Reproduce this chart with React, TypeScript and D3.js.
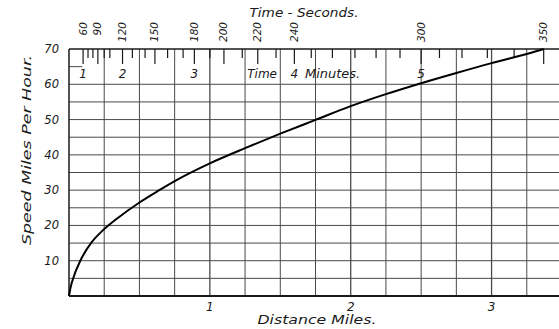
import React from "react";
import * as d3 from "d3";

// Speed curve: distance (miles) vs speed (mph)
const distance = [0, 0.02, 0.08, 0.16, 0.24, 0.33, 0.5, 0.65, 0.76, 1.0, 1.25, 1.5, 1.75, 2.0, 2.25, 2.5, 2.75, 3.0, 3.25, 3.37];
const speed = [0, 3.8, 10.0, 15.2, 18.6, 21.6, 26.5, 30.2, 32.8, 37.6, 41.9, 46.0, 49.9, 53.8, 57.2, 60.3, 63.2, 66.0, 68.6, 70.0];

// Top time scale: seconds and the distance where each tick falls
const timeSeconds = [60, 70, 80, 90, 100, 110, 120, 130, 140, 150, 160, 170, 180, 190, 200, 210, 220, 230, 240, 250, 260, 270, 280, 290, 300, 310, 320, 330, 340, 350];
const timeDistance = [0.10, 0.135, 0.17, 0.205, 0.25, 0.29, 0.38, 0.45, 0.54, 0.61, 0.70, 0.81, 0.89, 1.00, 1.10, 1.23, 1.34, 1.47, 1.60, 1.72, 1.87, 2.03, 2.18, 2.35, 2.50, 2.63, 2.79, 2.97, 3.16, 3.37];
const labeledSeconds = [60, 90, 120, 150, 180, 200, 220, 240, 300, 350];
const minuteLabels = ["1", "2", "3", "5"];
const minuteSeconds = [60, 120, 180, 300];

const speedTicks = [10, 20, 30, 40, 50, 60, 70];
const speedGrid = [5, 10, 15, 20, 25, 30, 35, 40, 45, 50, 55, 60];
const distanceTicks = [1, 2, 3];
const distanceGrid = d3.range(1, 15).map((i) => i * 0.25);

const W = 559;
const H = 329;

export default function App() {
  const x = d3.scaleLinear().domain([0, 3.5]).range([69, 562]);
  const y = d3.scaleLinear().domain([0, 70]).range([296, 49]);
  const pts: [number, number][] = distance.map((d, i) => [d, speed[i]]);
  const line = d3
    .line<[number, number]>()
    .x((p) => x(p[0]))
    .y((p) => y(p[1]))
    .curve(d3.curveCatmullRom.alpha(0.5));
  const distOfSec = (s: number) => timeDistance[timeSeconds.indexOf(s)];
  const font = "'DejaVu Sans', sans-serif";
  const ink = "#1a1a1a";
  const grid = "#4a4a4a";

  return (
    <svg
      width={W}
      height={H}
      viewBox={`0 0 ${W} ${H}`}
      style={{ position: "absolute", left: 0, top: 0, background: "#fff" }}
      fontFamily={font}
      fontStyle="italic"
    >
      <rect x={0} y={0} width={W} height={H} fill="#fff" />
      {/* vertical grid */}
      {distanceGrid.map((d) => (
        <line
          key={"v" + d}
          x1={x(d)}
          x2={x(d)}
          y1={y(70)}
          y2={y(0)}
          stroke={grid}
          strokeWidth={Number.isInteger(d) ? 1.3 : 1}
        />
      ))}
      {/* horizontal grid */}
      {speedGrid.map((v) => (
        <line key={"h" + v} x1={x(0)} x2={x(3.5)} y1={y(v)} y2={y(v)} stroke={grid} strokeWidth={1} />
      ))}
      {/* stub of 65 line */}
      <line x1={x(0)} x2={x(0.095)} y1={y(65)} y2={y(65)} stroke={grid} strokeWidth={1} />
      {/* frame */}
      <line x1={x(0)} x2={x(3.5)} y1={y(70)} y2={y(70)} stroke={ink} strokeWidth={1.5} />
      <line x1={x(0)} x2={x(3.5)} y1={y(0)} y2={y(0)} stroke={ink} strokeWidth={2} />
      <line x1={x(0)} x2={x(0)} y1={y(70)} y2={y(0)} stroke={ink} strokeWidth={1.5} />

      {/* time ticks */}
      {timeSeconds.map((s, i) => {
        const major = labeledSeconds.includes(s);
        return (
          <line
            key={"t" + s}
            x1={x(timeDistance[i])}
            x2={x(timeDistance[i])}
            y1={y(70)}
            y2={y(70) + (major ? 15 : 9)}
            stroke={ink}
            strokeWidth={1.2}
          />
        );
      })}
      {labeledSeconds.map((s) => {
        const px = x(distOfSec(s));
        return (
          <text
            key={"ts" + s}
            transform={`translate(${px + 3.5},22) rotate(-90)`}
            textAnchor="end"
            fontSize={10.5}
            fill={ink}
          >
            {s}
          </text>
        );
      })}
      <text x={304} y={17} textAnchor="middle" fontSize={13} fill={ink} textLength={109} lengthAdjust="spacingAndGlyphs">
        Time - Seconds.
      </text>

      {/* minute labels */}
      {minuteLabels.map((m, i) => (
        <text key={"m" + m} x={x(distOfSec(minuteSeconds[i]))} y={78} textAnchor="middle" fontSize={12} fill={ink}>
          {m}
        </text>
      ))}
      <text x={277} y={78} textAnchor="end" fontSize={12} fill={ink}>
        Time
      </text>
      <text x={x(distOfSec(240))} y={78} textAnchor="middle" fontSize={12} fill={ink}>
        4
      </text>
      <text x={305} y={78} textAnchor="start" fontSize={12} fill={ink} textLength={55} lengthAdjust="spacingAndGlyphs">
        Minutes.
      </text>

      {/* speed labels */}
      {speedTicks.map((v) => (
        <text key={"s" + v} x={59} y={y(v) + 4} textAnchor="end" fontSize={11.5} fill={ink}>
          {v}
        </text>
      ))}
      <text
        transform="translate(31,150) rotate(-90)"
        textAnchor="middle"
        fontSize={13}
        fill={ink}
        textLength={190}
        lengthAdjust="spacingAndGlyphs"
      >
        Speed Miles Per Hour.
      </text>

      {/* distance labels */}
      {distanceTicks.map((d) => (
        <text key={"d" + d} x={x(d)} y={311} textAnchor="middle" fontSize={12} fill={ink}>
          {d}
        </text>
      ))}
      <text x={317} y={324} textAnchor="middle" fontSize={12.5} fill={ink} textLength={119} lengthAdjust="spacingAndGlyphs">
        Distance Miles.
      </text>

      {/* curve */}
      <path d={line(pts) || ""} fill="none" stroke="#000" strokeWidth={2} />
    </svg>
  );
}
